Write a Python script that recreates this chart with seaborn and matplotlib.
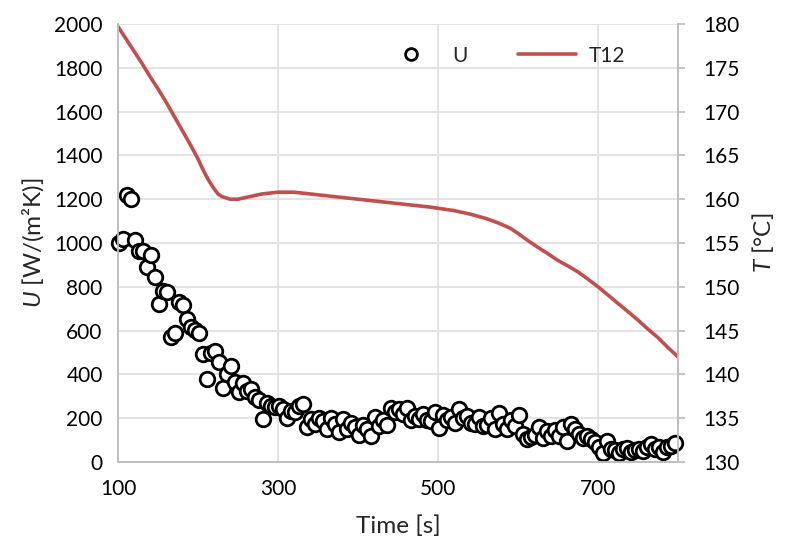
import numpy as np
import pandas as pd
import matplotlib
matplotlib.use("Agg")
import matplotlib.pyplot as plt
import seaborn as sns
from matplotlib.lines import Line2D

# ---- data ----
u_values = [1000, 1020, 1220, 1200, 1015, 965, 965, 890, 945, 845,
            720, 780, 775, 570, 590, 730, 715, 655, 615, 605,
            590, 495, 380, 500, 505, 455, 340, 400, 440, 365,
            320, 360, 325, 335, 295, 285, 195, 270, 255, 250,
            255, 240, 200, 235, 230, 255, 265, 160, 195, 175,
            200, 185, 150, 200, 175, 135, 195, 150, 180, 160,
            125, 170, 150, 120, 205, 165, 190, 170, 245, 230,
            240, 220, 245, 190, 210, 195, 220, 190, 185, 230,
            155, 215, 190, 205, 180, 240, 200, 210, 180, 175,
            205, 165, 170, 200, 150, 225, 175, 150, 190, 165,
            215, 130, 105, 115, 125, 160, 110, 140, 120, 145,
            120, 160, 95, 175, 150, 130, 110, 120, 105, 90,
            70, 40, 95, 60, 55, 40, 60, 65, 45, 55,
            60, 50, 70, 80, 60, 70, 45, 70, 75, 85]
u_start, u_step = 101, 5
u_time = u_start + u_step * np.arange(len(u_values))

t_time = [100, 110, 120, 130, 140, 150, 160, 170, 180, 190, 200, 205, 210,
          215, 220, 225, 230, 240, 250, 260, 270, 280, 300, 320, 340, 370,
          400, 430, 460, 490, 520, 540, 560, 575, 590, 600, 612, 625, 637,
          650, 662, 675, 687, 700, 712, 725, 737, 750, 762, 775, 787, 800]
t12 = [179.7, 178.3, 176.9, 175.5, 174.0, 172.6, 171.1, 169.5, 167.9, 166.3,
       164.6, 163.6, 162.7, 161.9, 161.2, 160.6, 160.3, 160.0, 160.0, 160.2,
       160.4, 160.6, 160.8, 160.8, 160.6, 160.3, 160.0, 159.7, 159.4, 159.1,
       158.7, 158.3, 157.8, 157.3, 156.7, 156.1, 155.3, 154.5, 153.8, 153.0,
       152.4, 151.7, 150.9, 150.0, 149.1, 148.1, 147.2, 146.2, 145.2, 144.2,
       143.1, 142.0]

x_ticks = [100, 300, 500, 700]
u_ticks = list(range(0, 2001, 200))
t_ticks = list(range(130, 181, 5))

df_u = pd.DataFrame({"Time": u_time, "U": u_values})
df_t = pd.DataFrame({"Time": t_time, "T12": t12})

# ---- style ----
sns.set_style("white")
plt.rcParams["font.family"] = ["Lato", "DejaVu Sans"]
plt.rcParams["mathtext.fontset"] = "custom"
plt.rcParams["mathtext.it"] = "Lato:italic"
plt.rcParams["mathtext.rm"] = "Lato"

grid_c = "#DEDEDE"
spine_c = "#BFBFBF"
red = "#C0504D"

fig = plt.figure(figsize=(7.94, 5.57), dpi=100)
ax = fig.add_axes([118/794, 1-462/557, 560/794, 438/557])
ax2 = ax.twinx()

sns.scatterplot(data=df_u, x="Time", y="U", ax=ax, s=110, marker="o",
                facecolor="white", edgecolor="black", linewidth=2.0,
                zorder=3, legend=False, clip_on=False)
sns.lineplot(data=df_t, x="Time", y="T12", ax=ax2, color=red, linewidth=2.6,
             legend=False)

ax.set_xlim(100, 800)
ax.set_ylim(0, 2000)
ax2.set_ylim(130, 180)
ax.set_xticks(x_ticks)
ax.set_yticks(u_ticks)
ax2.set_yticks(t_ticks)

ax.grid(True, color=grid_c, linewidth=1.2)
ax.set_axisbelow(True)
ax2.grid(False)

for a in (ax, ax2):
    a.spines["top"].set_visible(False)
    for s in ["left", "bottom", "right"]:
        a.spines[s].set_color(spine_c)
        a.spines[s].set_linewidth(1.3)

ax.tick_params(axis="x", length=0, pad=12, labelsize=15, colors="black")
ax.tick_params(axis="y", length=0, pad=11, labelsize=15, colors="black")
ax2.tick_params(axis="y", length=5, width=1.3, color=spine_c, pad=13,
                labelsize=15, labelcolor="black", direction="out")

ax.set_xlabel("Time [s]", fontsize=17.5, labelpad=12)
ax.set_ylabel("$U$ [W/(m²K)]", fontsize=17.5, labelpad=6)
ax2.set_ylabel("$T$ [°C]", fontsize=17.5, labelpad=8)

handles = [Line2D([], [], marker="o", linestyle="none", markerfacecolor="white",
                  markeredgecolor="black", markeredgewidth=2.0, markersize=8.5),
           Line2D([], [], color=red, linewidth=2.6)]
fig.legend(handles, ["U", "T12"], ncol=2, frameon=False, fontsize=15,
           loc="center", bbox_to_anchor=(0.634, 0.90), handlelength=2.8,
           columnspacing=2.4, handletextpad=0.6)

fig.savefig("out.png", dpi=100)
